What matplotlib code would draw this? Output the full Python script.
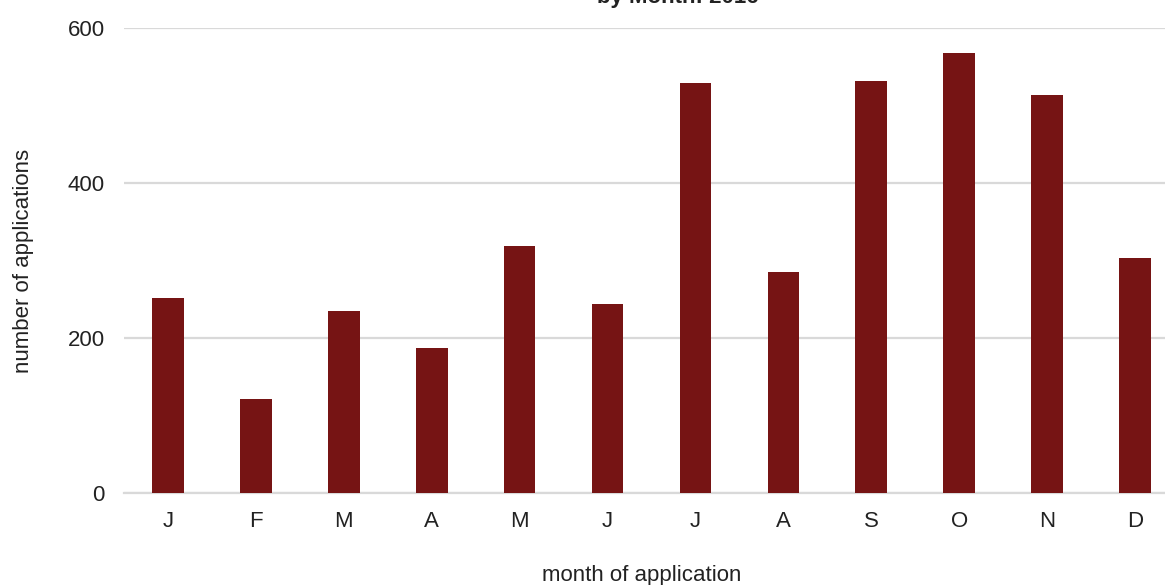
import matplotlib
matplotlib.use('Agg')
import matplotlib.pyplot as plt
import numpy as np

months = ['J', 'F', 'M', 'A', 'M', 'J', 'J', 'A', 'S', 'O', 'N', 'D']
applications = [252, 121, 235, 187, 319, 244, 529, 285, 532, 568, 514, 303]
yticks = [0, 200, 400, 600]

plt.rcParams['font.family'] = ['Liberation Sans', 'DejaVu Sans']

fig = plt.figure(figsize=(11.65, 5.85), dpi=100)
# axes runs a bit past the right edge, as in the reference
ax = fig.add_axes([124 / 1165, 1 - 493 / 585, (1179 - 124) / 1165, (493 - 28) / 585])

x = np.arange(len(months))
ax.bar(x, applications, width=0.36, color='#761414', zorder=3)

ax.set_xlim(-0.5, len(months) - 0.5)
ax.set_ylim(0, 600)
ax.set_yticks(yticks)
ax.set_xticks(x)
ax.set_xticklabels(months)

ax.grid(True, axis='y', color='#d9d9d9', linewidth=1.6, zorder=0)
for s in ['top', 'right', 'left']:
    ax.spines[s].set_visible(False)
ax.spines['bottom'].set_color('#d9d9d9')
ax.spines['bottom'].set_linewidth(1.6)
ax.tick_params(axis='both', length=0, labelsize=16, colors='#222222')
ax.tick_params(axis='y', pad=14)
ax.tick_params(axis='x', pad=13)

ax.set_ylabel('number of applications', fontsize=16, color='#222222', labelpad=24)
ax.set_xlabel('month of application', fontsize=16, color='#222222')
ax.xaxis.set_label_coords(0.491, -0.155)

# title is cut off at the top of the image
fig.text(678 / 1165, 1 - 3 / 585, 'Applications\nby Month: 2016', ha='center', va='baseline',
         fontsize=16, fontweight='bold', color='#222222')

fig.savefig('out.png', dpi=100)
